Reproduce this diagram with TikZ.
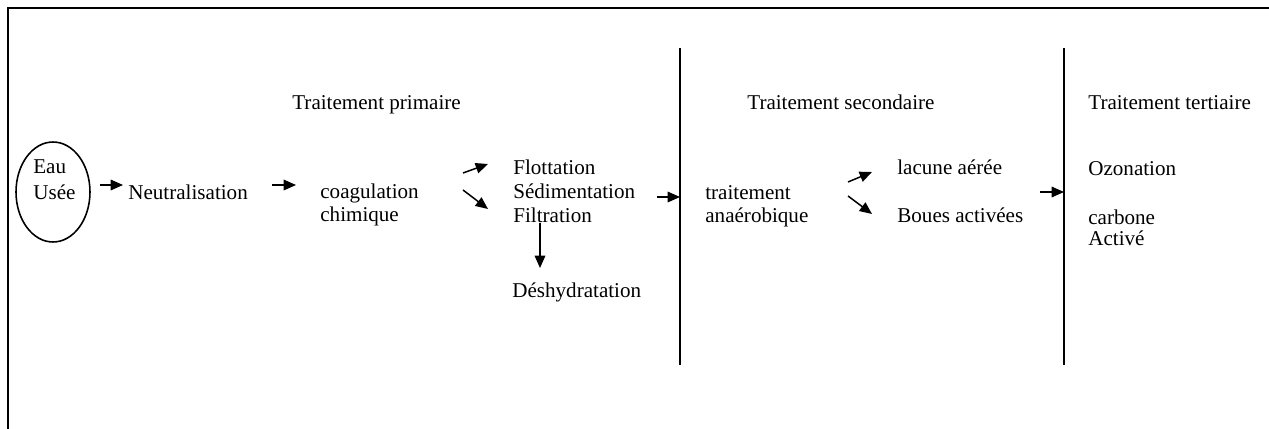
\documentclass[tikz,border=0pt]{standalone}
\usepackage{fontspec}
\setmainfont{Liberation Serif}
\usetikzlibrary{arrows.meta,shapes.geometric}

\begin{document}
\begin{tikzpicture}[
    x=0.02cm, y=-0.02cm,
    txt/.style={inner sep=0pt, anchor=base west, align=left, font=\fontsize{12pt}{13pt}\selectfont},
    entree/.style={ellipse, draw, line width=0.9pt, minimum width=1.48cm, minimum height=2cm, inner sep=0pt},
    arrow/.style={-{Triangle[length=7pt,width=6pt]}, line width=0.85pt},
    sepline/.style={line width=1.1pt},
    frameline/.style={line width=1.3pt}
]
\useasboundingbox (0,0) rectangle (1269,429);

\draw[frameline] (8,429) -- (8,8) -- (1269,8);

\draw[sepline] (680,48) -- (680,365);
\draw[sepline] (1064,48) -- (1064,365);
\coordinate (div1) at (680,197);
\coordinate (div2) at (1064,192);

\node[txt] (prim) at (292,110) {Traitement primaire};
\node[txt] (sec) at (747,110) {Traitement secondaire};
\node[txt] (tert) at (1088,110) {Traitement tertiaire};

\node[entree] (eau) at (53,192) {};
\node[txt, font=\fontsize{12pt}{14.7pt}\selectfont] (eautxt) at (33,199) {Eau\\Usée};
\node[txt] (neutral) at (128,199) {Neutralisation};
\node[txt, font=\fontsize{12pt}{12.6pt}\selectfont] (coag) at (320,221) {coagulation\\chimique};
\node[txt, font=\fontsize{12pt}{13.6pt}\selectfont] (sep) at (513,222) {Flottation\\Sédimentation\\Filtration};
\node[txt] (deshy) at (512,297) {Déshydratation};
\node[txt] (anaer) at (705,222) {traitement\\anaérobique};
\node[txt] (lacune) at (897,174) {lacune aérée};
\node[txt] (boues) at (897,222) {Boues activées};
\node[txt] (ozon) at (1088,175) {Ozonation};
\node[txt, font=\fontsize{12pt}{12.5pt}\selectfont] (carb) at (1088,246) {carbone\\Activé};

\draw[arrow] ([shift={(9,-7)}]eau.east) -- ([shift={(-5,-14)}]neutral.base west);
\draw[arrow] ([shift={(24,-14)}]neutral.base east) -- ([shift={(-24,-36)}]coag.base west);
\draw[arrow] ([shift={(-50,-49)}]sep.base west) -- ([shift={(-25,-58)}]sep.base west);
\draw[arrow] ([shift={(-50,-32)}]sep.base west) -- ([shift={(-25,-13)}]sep.base west);
\draw[arrow] ([shift={(27,1)}]sep.base west) -- ([shift={(28,-29)}]deshy.base west);
\draw[arrow] ([shift={(-23,0)}]div1) -- (div1);
\draw[arrow] ([shift={(143,-40)}]anaer.base west) -- ([shift={(-25,-2)}]lacune.base west);
\draw[arrow] ([shift={(143,-26)}]anaer.base west) -- ([shift={(-25,-8)}]boues.base west);
\draw[arrow] ([shift={(-24,0)}]div2) -- (div2);

\end{tikzpicture}
\end{document}
